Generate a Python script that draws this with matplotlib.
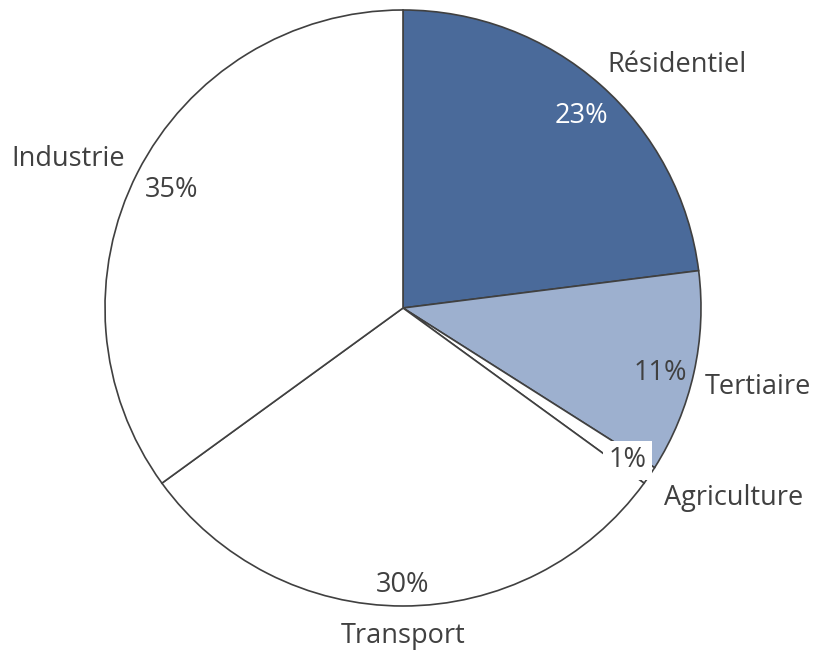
import numpy as np
import matplotlib
matplotlib.use("Agg")
import matplotlib.pyplot as plt

categories = ["Résidentiel", "Tertiaire", "Agriculture", "Transport", "Industrie"]
values = [23, 11, 1, 30, 35]
pct_labels = ["23%", "11%", "1%", "30%", "35%"]
colors = ["#4A6A9A", "#9DB0CF", "#FFFFFF", "#FFFFFF", "#FFFFFF"]
pct_colors = ["white", "#404040", "#404040", "#404040", "#404040"]

# layout (distance factors and angle offsets relative to slice mid-angle)
label_dist = [1.23, 1.22, 1.28, 1.10, 1.23]
label_dang = [-7.0, 0.0, 4.3, 0.0, 3.0]
pct_dist = [0.88, 0.89, 0.91, 0.93, 0.87]
pct_dang = [-1.5, -1.5, 0.0, 0.0, 0.0]

W, H = 818, 652
fig = plt.figure(figsize=(W / 100, H / 100), dpi=100)
ax = fig.add_axes([0, 0, 1, 1])

cx, cy, R = 403, H - 308, 298
wedges, _ = ax.pie(values, colors=colors, startangle=90, counterclock=False,
                   center=(cx, cy), radius=R, frame=True,
                   wedgeprops=dict(edgecolor="#404040", linewidth=1.2))
ax.set_xlim(0, W)
ax.set_ylim(0, H)
ax.axis("off")

font = "Open Sans"
fs = 19.5
for i, w in enumerate(wedges):
    mid = 0.5 * (w.theta1 + w.theta2)
    a = np.deg2rad(mid + label_dang[i])
    ax.text(cx + label_dist[i] * R * np.cos(a), cy + label_dist[i] * R * np.sin(a),
            categories[i], ha="center", va="center", fontsize=fs, family=font,
            color="#404040")
    a2 = np.deg2rad(mid + pct_dang[i])
    kw = {}
    if values[i] < 5:
        kw["bbox"] = dict(boxstyle="square,pad=0.2", facecolor="white", edgecolor="none")
    ax.text(cx + pct_dist[i] * R * np.cos(a2), cy + pct_dist[i] * R * np.sin(a2),
            pct_labels[i], ha="center", va="center", fontsize=fs, family=font,
            color=pct_colors[i], **kw)

fig.savefig("out.png", dpi=100, facecolor="white")
